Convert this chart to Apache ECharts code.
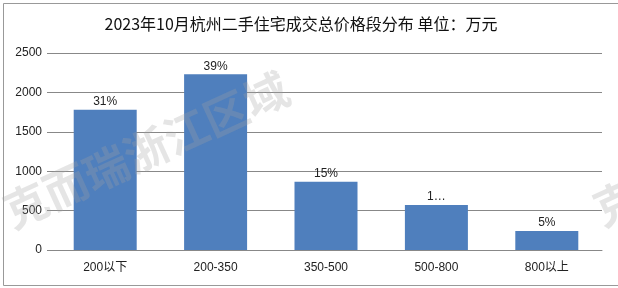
<!DOCTYPE html>
<html><head><meta charset="utf-8">
<script src="https://cdn.jsdelivr.net/npm/echarts@6/dist/echarts.min.js"></script>
<style>html,body{margin:0;padding:0;background:#fff}#c{width:618px;height:288px;box-sizing:border-box}</style>
</head><body><div id="c"></div>
<script>
const titleText = '2023年10月杭州二手住宅成交总价格段分布 单位：万元';
const categories = ['200以下', '200-350', '350-500', '500-800', '800以上'];
const values = [1780, 2230, 865, 570, 240];
const pctLabels = ['31%', '39%', '15%', '1…', '5%'];
const yTicks = [0, 500, 1000, 1500, 2000, 2500];
const watermark = '克而瑞浙江区域';

const chart = echarts.init(document.getElementById('c'), null, {renderer: 'canvas'});
const font = '"Liberation Sans","Noto Sans CJK SC",sans-serif';
chart.setOption({
  animation: false,
  backgroundColor: '#fff',
  title: {
    text: titleText, left: 296, top: 11, textAlign: 'center',
    textStyle: {fontFamily: '"Noto Sans CJK SC",sans-serif', fontSize: 16, fontWeight: 'normal', color: '#111'}
  },
  grid: {left: 50, right: 16, top: 53, bottom: 38, containLabel: false},
  xAxis: {
    type: 'category', data: categories,
    axisLine: {lineStyle: {color: '#888', width: 1}},
    axisTick: {show: false},
    axisLabel: {color: '#222', fontSize: 12, fontFamily: font, margin: 12}
  },
  yAxis: {
    type: 'value', min: yTicks[0], max: yTicks[yTicks.length - 1], interval: 500,
    axisLine: {show: false},
    axisTick: {show: true, length: 3, lineStyle: {color: '#888'}},
    splitLine: {lineStyle: {color: '#888', width: 1}},
    axisLabel: {color: '#222', fontSize: 12, fontFamily: font, margin: 8, formatter: v => String(v)}
  },
  series: [{
    type: 'bar', data: values, barWidth: 63,
    itemStyle: {color: '#4f7fbd'},
    label: {
      show: true, position: 'top', distance: 2, color: '#222', fontSize: 12, fontFamily: font,
      formatter: p => pctLabels[p.dataIndex]
    },
    z: 2
  }],
  graphic: [
    {type: 'rect', left: 1, top: 1, shape: {width: 615, height: 282}, style: {fill: 'none', stroke: '#999', lineWidth: 1}, z: 0, silent: true},
    {type: 'text', x: 146, y: 150, rotation: 0.43, z: 100, silent: true,
     style: {text: watermark, fill: 'rgba(160,160,160,0.28)', font: 'bold 44px "Noto Sans CJK SC",sans-serif', align: 'center', verticalAlign: 'middle'}},
    {type: 'text', x: 596, y: 212, rotation: 0.43, z: 100, silent: true,
     style: {text: watermark, fill: 'rgba(160,160,160,0.28)', font: 'bold 44px "Noto Sans CJK SC",sans-serif', align: 'left', verticalAlign: 'middle'}}
  ]
});
</script></body></html>
